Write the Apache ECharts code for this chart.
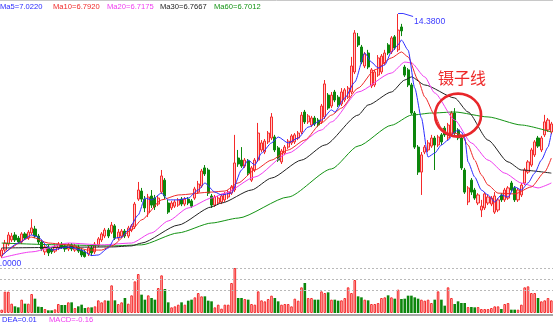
<!DOCTYPE html>
<html>
<head>
<meta charset="utf-8">
<script src="https://cdn.jsdelivr.net/npm/echarts/dist/echarts.min.js"></script>
<style>
html,body{margin:0;padding:0;background:#ffffff;}
#chart{width:553px;height:324px;}
</style>
</head>
<body>
<div id="chart"></div>
<script>
// Daily bars: [open, close, low, high]
const candles = [
[5.07,5.30,5.00,5.38],[5.30,5.57,5.23,5.69],[5.53,5.88,5.46,5.99],[5.69,5.84,5.61,5.96],[5.88,5.69,5.61,5.99],
[5.76,5.61,5.53,5.84],[5.61,5.92,5.53,5.99],[5.92,5.76,5.69,5.99],[5.76,5.99,5.69,6.07],[5.96,6.15,5.88,6.49],
[6.11,5.84,5.76,6.23],[5.84,5.61,5.53,5.92],[5.61,5.34,5.26,5.69],[5.23,5.42,5.11,5.50],[5.42,5.19,5.07,5.50],
[5.34,5.23,5.15,5.38],[5.26,5.42,5.19,5.50],[5.38,5.53,5.30,5.61],[5.53,5.42,5.34,5.61],[5.46,5.34,5.23,5.53],
[5.34,5.50,5.26,5.57],[5.50,5.34,5.26,5.57],[5.30,5.46,5.23,5.53],[5.42,5.26,5.19,5.50],[5.30,5.11,5.03,5.38],
[5.23,5.05,5.01,5.30],[5.15,5.38,5.07,5.46],[5.38,5.19,5.07,5.46],[5.23,5.53,5.15,5.61],[5.50,5.73,5.42,5.80],
[5.69,5.92,5.61,5.99],[5.84,6.07,5.76,6.15],[6.07,5.84,5.76,6.15],[5.99,6.26,5.92,6.38],[6.23,5.76,5.69,6.30],
[5.76,5.99,5.69,6.11],[5.84,6.03,5.76,6.11],[6.03,5.84,5.76,6.11],[5.84,6.15,5.76,6.23],[6.07,6.23,5.99,6.30],
[6.19,7.07,6.11,7.15],[7.26,7.61,7.19,7.92],[7.57,7.26,7.15,7.69],[7.26,6.92,6.76,7.38],[6.76,7.34,6.57,7.46],
[7.38,7.03,6.92,7.61],[7.30,6.96,6.84,7.42],[7.07,7.30,6.99,7.38],[7.53,8.15,7.46,8.38],[7.99,7.38,7.26,8.07],
[7.11,6.76,6.69,7.23],[6.92,7.11,6.84,7.19],[6.99,7.15,6.92,7.23],[7.03,7.23,6.96,7.30],[7.26,7.07,6.99,7.34],
[7.07,7.26,6.99,7.34],[7.26,7.11,7.03,7.34],[7.19,6.99,6.92,7.26],[7.30,7.65,7.23,7.73],[7.53,7.84,7.46,7.96],
[7.76,8.34,7.69,8.42],[8.46,8.23,8.15,8.57],[8.38,7.49,7.38,8.46],[7.38,7.03,6.92,7.46],[7.03,7.34,6.96,7.42],
[7.11,7.30,7.03,7.38],[7.15,7.38,7.07,7.46],[7.23,7.46,7.15,7.53],[7.34,7.53,7.26,7.61],[7.49,7.73,7.42,7.80],
[7.61,8.65,7.53,9.73],[8.84,8.61,8.50,9.15],[8.76,8.53,8.46,9.26],[8.53,8.76,8.46,8.84],[8.73,8.26,8.19,8.80],
[7.99,8.46,7.92,8.53],[8.38,8.76,8.30,8.84],[8.76,9.80,8.69,10.19],[9.15,9.42,9.07,9.53],[9.07,9.49,8.99,9.57],
[9.46,9.80,9.38,9.88],[9.61,10.42,9.53,10.57],[9.65,9.15,9.07,9.73],[9.23,8.76,8.69,9.30],[8.69,9.11,8.61,9.19],
[9.03,9.26,8.95,9.34],[9.26,9.49,9.19,9.57],[9.42,9.69,9.34,9.76],[9.46,9.73,9.38,9.80],[9.61,9.80,9.53,9.88],
[9.84,10.49,9.76,10.61],[10.61,10.23,10.15,10.69],[10.23,10.46,10.15,10.53],[10.11,10.38,10.03,10.46],[10.38,10.15,10.07,10.46],
[10.30,10.11,10.03,10.38],[10.23,10.84,10.15,10.92],[10.42,11.69,10.34,11.84],[11.26,10.76,10.69,11.34],[10.84,11.26,10.76,11.38],
[11.38,11.07,10.99,11.46],[11.18,10.88,10.80,11.26],[10.92,11.38,10.84,11.53],[11.07,11.46,10.99,11.53],[11.18,11.53,11.11,11.61],
[11.38,12.38,11.30,12.73],[12.15,13.65,12.07,13.76],[13.50,13.19,13.11,13.65],[13.11,12.53,12.45,13.19],[12.38,12.84,12.30,12.92],
[12.88,12.34,12.26,13.00],[11.61,12.23,11.53,12.30],[11.65,12.15,11.57,12.23],[12.03,12.69,11.96,12.80],[12.15,12.76,12.07,12.84],
[12.50,12.88,12.42,13.00],[13.19,12.88,12.80,13.26],[12.92,13.46,12.84,13.53],[13.50,13.07,13.00,13.57],[13.00,13.76,12.92,14.38],
[13.88,13.73,13.53,14.00],[12.34,12.03,11.96,12.42],[12.23,11.65,11.57,12.30],[11.65,10.57,10.50,11.73],[10.57,9.26,9.19,10.65],
[9.26,8.30,8.19,9.34],[8.30,8.96,7.42,9.07],[9.07,9.26,8.99,9.34],[9.15,9.42,9.07,9.53],[9.30,9.61,9.23,9.73],
[9.61,9.34,8.38,9.69],[9.34,9.65,9.26,9.73],[9.73,9.46,9.34,9.80],[9.99,9.73,9.65,10.07],[9.61,10.11,9.53,10.19],
[9.76,10.57,9.69,10.65],[10.57,9.80,9.73,10.76],[9.92,9.61,9.53,9.99],[9.61,8.46,8.38,9.69],[8.38,7.53,7.46,8.46],
[7.15,7.69,7.03,7.76],[7.99,7.53,7.42,8.07],[7.61,7.30,7.23,7.69],[7.11,7.42,7.03,7.49],[6.84,6.99,6.57,7.23],
[6.92,7.46,6.84,7.53],[7.11,7.34,7.03,7.42],[7.07,7.30,6.99,7.38],[6.76,7.38,6.69,7.53],[6.84,7.23,6.76,7.30],
[7.42,7.23,7.15,7.49],[7.23,7.61,7.15,7.69],[7.30,7.69,7.23,7.76],[7.88,7.61,7.53,7.96],[7.69,7.23,7.15,7.76],
[7.23,7.61,7.15,7.69],[7.42,7.80,7.34,7.88],[7.88,8.38,7.80,8.46],[8.30,8.69,8.23,8.76],[8.57,9.15,8.50,9.23],
[8.96,9.46,8.88,9.53],[9.61,9.30,9.23,9.69],[9.15,9.61,9.07,9.69],[9.73,10.23,9.65,10.50],[9.92,10.30,9.84,10.38],
[9.84,10.15,9.76,10.23]
];

// Daily volume (relative units)
const volumes = [
10,64,64,28,20,17,40,28,28,57,
43,19,18,12,8,8,11,27,24,24,
32,32,15,20,25,15,17,17,20,38,
32,38,37,83,38,27,32,45,28,53,
95,117,55,40,53,45,40,75,113,72,
32,17,20,25,32,25,37,40,47,60,
50,50,37,35,17,25,13,25,25,90,
135,45,45,42,40,27,25,65,38,35,
42,52,45,35,25,27,27,20,43,37,
77,90,45,45,40,40,65,60,62,40,
40,37,38,45,77,60,99,50,47,40,
38,27,27,30,45,47,53,47,43,70,
42,43,52,52,47,43,40,37,40,30,
40,65,40,22,77,45,27,35,30,30,
18,18,17,18,12,12,12,15,20,20,
12,27,30,10,10,10,25,77,80,60,
60,45,35,38,45,38
];

// Moving-average lines, [bar index, price]
const ma5 = [[0,5.07],[5,5.57],[9,5.88],[11,5.80],[14,5.42],[15,5.30],[20,5.42],[24,5.30],[27,5.09],[29,5.11],
[32,5.38],[34,5.76],[36,5.80],[38,6.07],[41,6.65],[43,7.30],[45,7.23],[48,7.49],[50,7.23],[53,7.23],[56,7.30],
[59,7.61],[61,7.88],[64,7.53],[66,7.42],[69,7.49],[72,8.38],[74,8.76],[76,8.57],[78,9.03],[81,9.42],[83,9.65],
[86,9.42],[89,9.61],[92,10.03],[96,10.30],[99,10.69],[100,10.61],[103,11.15],[106,11.76],[109,12.88],[111,12.53],
[113,12.30],[115,12.42],[117,12.92],[119,13.19],[120,13.38],[122,12.99],[124,11.53],[126,10.38],[128,8.88],
[130,9.03],[132,9.34],[134,9.53],[136,9.84],[137,9.92],[138,9.84],[139,9.61],[140,8.69],[142,8.11],[144,7.61],
[146,7.42],[148,7.15],[150,7.42],[152,7.34],[154,7.73],[156,7.61],[158,7.88],[160,8.26],[162,8.76],[164,9.26],[165,9.80]];
const ma10 = [[0,5.11],[9,5.80],[14,5.57],[20,5.50],[26,5.30],[30,5.30],[33,5.46],[39,6.07],[42,6.46],[48,7.23],
[53,7.42],[63,7.53],[67,7.57],[71,7.88],[76,8.38],[81,8.76],[86,9.15],[91,9.53],[96,10.19],[99,10.49],[102,10.76],
[107,11.53],[112,12.23],[117,12.69],[120,12.92],[122,12.73],[125,11.84],[127,11.19],[130,10.49],[132,9.99],
[134,9.80],[136,9.80],[138,9.73],[140,9.34],[142,8.76],[144,8.19],[146,7.80],[149,7.49],[154,7.46],[159,7.73],
[163,8.30],[165,8.84]];
const ma20 = [[0,5.00],[9,5.23],[20,5.57],[30,5.50],[39,5.57],[45,5.96],[50,6.42],[56,6.92],[63,7.30],[67,7.49],
[76,8.11],[86,9.03],[96,9.92],[99,10.23],[107,11.38],[117,12.11],[121,12.53],[123,12.50],[127,11.96],[130,11.34],
[136,10.30],[141,9.42],[146,8.76],[151,8.26],[156,7.88],[161,7.69],[165,7.88]];
const ma30 = [[0,5.38],[33,5.42],[39,5.46],[42,5.57],[53,6.26],[63,6.96],[66,7.11],[75,7.61],[81,8.07],[90,8.76],
[97,9.34],[107,10.49],[110,10.88],[117,11.38],[121,11.84],[123,11.96],[127,11.65],[136,11.15],[140,10.61],
[146,9.53],[152,8.69],[156,8.38],[165,8.26]];
const ma60 = [[0,5.57],[18,5.50],[33,5.46],[42,5.50],[53,5.96],[63,6.34],[71,6.53],[86,7.34],[99,8.42],[107,9.30],
[117,10.10],[123,10.49],[129,10.57],[136,10.61],[146,10.42],[156,10.11],[165,9.84]];

// Header readouts
const maLabels = ['Ma5=7.0220','Ma10=6.7920','Ma20=6.7175','Ma30=6.7667','Ma60=6.7012'];
const maColors = ['#2b2bff','#f02828','#f03cf0','#222222','#139313'];
const macdLabels = ['DEA=0.01','MACD=-0.16'];
const patternName = '镊子线';
const tweezerBars = [135, 136];

const UP_LINE = '#f52a2a', UP_FILL = '#ffc6c6', DOWN = '#0c860c';

const days = candles.map((_, i) => String(i + 1));
const volData = volumes.map((v, i) => {
  const up = candles[i][1] >= candles[i][0];
  return {
    value: v,
    itemStyle: up ? { color: UP_FILL, borderColor: UP_LINE, borderWidth: 1 }
                  : { color: DOWN, borderColor: DOWN, borderWidth: 0 }
  };
});

function maSeries(data, color) {
  return {
    type: 'line', xAxisIndex: 0, yAxisIndex: 0, data: data,
    smooth: 0.22, smoothMonotone: 'x', showSymbol: false, silent: true,
    lineStyle: { color: color, width: 1 }, z: 3
  };
}

const chart = echarts.init(document.getElementById('chart'), null, { renderer: 'canvas' });

chart.setOption({
  animation: false,
  backgroundColor: '#ffffff',
  grid: [
    { left: 0, right: 0, top: 10, height: 252 },
    { left: 0, right: 0, top: 258, height: 55 }
  ],
  xAxis: [
    { type: 'category', gridIndex: 0, data: days, boundaryGap: true, show: false },
    { type: 'category', gridIndex: 1, data: days, boundaryGap: true,
      axisLine: { show: true, onZero: false, lineStyle: { color: '#a6a6a6', width: 2 } },
      offset: 2, axisTick: { show: false }, axisLabel: { show: false } }
  ],
  yAxis: [
    { type: 'value', gridIndex: 0, min: 4.8411, max: 14.5334, show: false },
    { type: 'value', gridIndex: 1, min: 0, max: 165, show: false }
  ],
  series: [
    {
      type: 'candlestick', xAxisIndex: 0, yAxisIndex: 0, data: candles,
      barWidth: 2.6, z: 2,
      itemStyle: {
        color: UP_FILL, borderColor: UP_LINE,
        color0: DOWN, borderColor0: DOWN, borderWidth: 1
      }
    },
    maSeries(ma60, maColors[4]),
    maSeries(ma30, maColors[3]),
    maSeries(ma20, maColors[2]),
    maSeries(ma10, maColors[1]),
    maSeries(ma5, maColors[0]),
    {
      type: 'bar', xAxisIndex: 1, yAxisIndex: 1, data: volData, barWidth: 2.6,
      markLine: {
        silent: true, symbol: 'none', label: { show: false },
        lineStyle: { color: '#b9b9b9', type: [2, 2], width: 1 },
        data: [{ yAxis: 68 }, { yAxis: 101 }, { yAxis: 134 }]
      }
    }
  ]
});

// Annotations placed from the data through the chart's own scales
let hiIdx = 0, loIdx = 0;
candles.forEach((c, i) => {
  if (c[3] > candles[hiIdx][3]) hiIdx = i;
  if (c[2] < candles[loIdx][2]) loIdx = i;
});
const hiVal = candles[hiIdx][3], loVal = candles[loIdx][2];
const hp = chart.convertToPixel({ gridIndex: 0 }, [hiIdx, hiVal]);
const lp = chart.convertToPixel({ gridIndex: 0 }, [loIdx, loVal]);
const tA = chart.convertToPixel({ gridIndex: 0 }, [tweezerBars[0], candles[tweezerBars[0]][3]]);
const tB = chart.convertToPixel({ gridIndex: 0 }, [tweezerBars[1], candles[tweezerBars[1]][3]]);
const ecx = (tA[0] + tB[0]) / 2 + 5, ecy = Math.min(tA[1], tB[1]) + 7;

const headerX = [0, 53, 107, 160, 214];
const graphics = [
  { type: 'line', shape: { x1: 0, y1: 0.5, x2: 553, y2: 0.5 }, style: { stroke: '#c8c8c8', lineWidth: 1 }, silent: true }
];
maLabels.forEach((t, i) => graphics.push({
  type: 'text', x: headerX[i], y: 7,
  style: { text: t, fill: maColors[i], font: '7.6px "Liberation Sans", Arial, sans-serif', textVerticalAlign: 'middle' },
  silent: true
}));
graphics.push(
  { type: 'polyline', shape: { points: [[hp[0], hp[1] - 0.5], [hp[0] + 5, hp[1] - 0.5], [hp[0] + 15, hp[1] + 2.5]] },
    style: { stroke: '#3a3aff', lineWidth: 1, fill: null }, silent: true },
  { type: 'text', x: hp[0] + 16, y: hp[1] + 8,
    style: { text: hiVal.toFixed(4), fill: '#3a3aff', font: '8.6px "Liberation Sans", Arial, sans-serif', textVerticalAlign: 'middle' }, silent: true },
  { type: 'text', x: lp[0] - 6.6, y: lp[1] + 6,
    style: { text: loVal.toFixed(4), fill: '#3a3aff', font: '8.6px "Liberation Sans", Arial, sans-serif', textVerticalAlign: 'middle' }, silent: true },
  { type: 'ellipse', shape: { cx: ecx, cy: ecy, rx: 23, ry: 21.5 },
    style: { stroke: '#e8262a', lineWidth: 2.6, fill: null }, z: 10, silent: true },
  { type: 'text', x: ecx + 4, y: ecy - 37,
    style: { text: patternName, fill: '#ee2a2a', font: '16px "Noto Sans CJK SC", sans-serif', textAlign: 'center', textVerticalAlign: 'middle' }, silent: true },
  { type: 'text', x: 2, y: 320,
    style: { text: macdLabels[0], fill: '#2b2bff', font: '7.6px "Liberation Sans", Arial, sans-serif', textVerticalAlign: 'middle' }, silent: true },
  { type: 'text', x: 49, y: 320,
    style: { text: macdLabels[1], fill: '#f03cf0', font: '7.6px "Liberation Sans", Arial, sans-serif', textVerticalAlign: 'middle' }, silent: true }
);
chart.setOption({ graphic: graphics });
</script>
</body>
</html>
